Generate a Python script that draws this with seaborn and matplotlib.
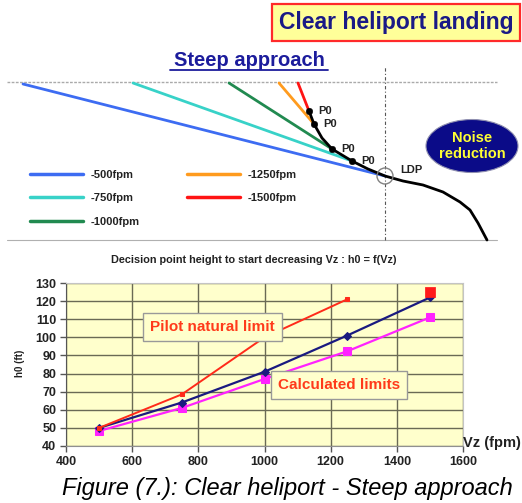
import matplotlib
matplotlib.use("Agg")
import matplotlib.pyplot as plt
import seaborn as sns
import pandas as pd
from matplotlib.patches import Ellipse, Circle
from matplotlib.lines import Line2D

sns.set_style("white")
plt.rcParams['font.family'] = ['Liberation Sans', 'DejaVu Sans']

# ---------------- bottom chart data ----------------
pilot_vz = [500, 750, 1000, 1250]
pilot_h0 = [50, 68.5, 100, 121]
pilot_extra_vz = [1500]
pilot_extra_h0 = [125]
mid_vz = [500, 750, 1000, 1250, 1500]
mid_h0 = [50, 64, 81, 101, 122]
calc_vz = [500, 750, 1000, 1250, 1500]
calc_h0 = [48.3, 61, 77, 92.3, 111]
x_ticks = [400, 600, 800, 1000, 1200, 1400, 1600]
y_ticks = [40, 50, 60, 70, 80, 90, 100, 110, 120, 130]

# ---------------- top schematic data (schematic units, LDP at origin) ----------------
rates = ['-500fpm', '-750fpm', '-1000fpm', '-1250fpm', '-1500fpm']
rate_colors = ['#3d6cf2', '#38d2c8', '#218a50', '#ff9b1e', '#ff1414']
start_x = [-362, -252, -156, -106, -87]
start_y = [92, 93, 93, 93, 93]
end_x = [0, -33, -53, -71, -76]
end_y = [0, 15, 27, 52, 65]
p0_x = [-76, -71, -53, -33]
p0_y = [65, 52, 27, 15]
traj_x = [-76, -71, -63, -53, -33, -17, 0, 18, 38, 58, 75, 85, 93, 102]
traj_y = [65, 52, 38, 27, 15, 7, 0, -5, -9, -16, -26, -34, -47, -64]

W, H = 522, 503
fig = plt.figure(figsize=(W / 100, H / 100), dpi=100)

# ---------------- top schematic ----------------
axt = fig.add_axes([0, 1 - 250 / H, 1, 250 / H])
axt.set_xlim(-385, 137)
axt.set_ylim(-74, 176)
axt.axis('off')

axt.axhline(94, xmin=7 / W, xmax=497 / W, color='#aaaaaa', lw=1, ls=(0, (2, 1)))
axt.axhline(-64, xmin=7 / W, xmax=497 / W, color='#b0b0b0', lw=0.8)
axt.axvline(0, ymin=10 / 250, ymax=183 / 250, color='#555555', lw=0.8, ls=(0, (3, 2, 1, 2)))

for i, r in enumerate(rates):
    seg = pd.DataFrame({'x': [start_x[i], end_x[i]], 'y': [start_y[i], end_y[i]]})
    sns.lineplot(data=seg, x='x', y='y', ax=axt, color=rate_colors[i], lw=2,
                 label=r, sort=False)

traj = pd.DataFrame({'x': traj_x, 'y': traj_y})
sns.lineplot(data=traj, x='x', y='y', ax=axt, color='black', lw=2, sort=False, legend=False)
sns.scatterplot(x=p0_x, y=p0_y, ax=axt, color='black', s=22, edgecolor='black', zorder=5)
for px, py in zip(p0_x, p0_y):
    axt.annotate('P0', (px, py), xytext=(7, 0), textcoords='offset points',
                 fontsize=8, fontweight='bold', color='#222222', va='center')

axt.add_patch(Circle((0, 0), 8, fill=False, ec='#808080', lw=1, zorder=6))
axt.annotate('LDP', (0, 0), xytext=(11, 4), textcoords='offset points',
             fontsize=8, fontweight='bold', color='#222222', va='center')

axt.add_patch(Ellipse((87, 30), 92, 53, fc='#0b0b88', ec='#9090b0', lw=0.8))
axt.text(87, 30, 'Noise\nreduction', ha='center', va='center', color='#ffff33',
         fontsize=10.5, fontweight='bold', linespacing=1.15)

leg = axt.legend(loc='upper left', bbox_to_anchor=(30 / W, (250 - 170) / 250), ncol=2,
                 frameon=False, fontsize=8, handlelength=4.8, handletextpad=0.7,
                 columnspacing=4.2, labelspacing=1.2, borderpad=0, borderaxespad=0)
for t in leg.get_texts():
    t.set_fontweight('bold')
    t.set_color('#222222')
for h in leg.legend_handles:
    h.set_linewidth(2.5)

fig.text(396 / W, 1 - 22.5 / H, 'Clear heliport landing', ha='center', va='center',
         fontsize=16.5, fontweight='bold', color='#1a1a86',
         bbox=dict(boxstyle='square,pad=0.3', fc='#ffff99', ec='#ff2a2a', lw=1.6))
fig.text(249 / W, 1 - 66 / H, 'Steep approach', ha='center', va='baseline',
         fontsize=14.5, fontweight='bold', color='#1c1c9c')
fig.add_artist(Line2D([170 / W, 328 / W], [1 - 70 / H, 1 - 70 / H], color='#1c1c9c', lw=1.3))

# ---------------- bottom chart ----------------
fig.text(254 / W, 1 - 260 / H, 'Decision point height to start decreasing Vz : h0 = f(Vz)',
         ha='center', va='center', fontsize=7.8, fontweight='bold', color='#222222')

ax = fig.add_axes([66 / W, 1 - 446 / H, (463 - 66) / W, (446 - 283) / H])
ax.set_facecolor('#ffffcc')
ax.set_xlim(400, 1600)
ax.set_ylim(40, 130)
ax.set_xticks(x_ticks)
ax.set_yticks(y_ticks)
ax.grid(True, color='#6a6a55', lw=1)
ax.set_axisbelow(True)

df_p = pd.DataFrame({'vz': pilot_vz, 'h0': pilot_h0})
df_m = pd.DataFrame({'vz': mid_vz, 'h0': mid_h0})
df_c = pd.DataFrame({'vz': calc_vz, 'h0': calc_h0})
sns.lineplot(data=df_c, x='vz', y='h0', ax=ax, color='#ff22ff', lw=1.6, marker='s',
             markersize=6, markeredgecolor='#ff22ff')
sns.lineplot(data=df_m, x='vz', y='h0', ax=ax, color='#1a1a80', lw=1.6, marker='D',
             markersize=4.5, markeredgecolor='#1a1a80')
sns.lineplot(data=df_p, x='vz', y='h0', ax=ax, color='#ff2a1a', lw=1.4, marker='s',
             markersize=3.5, markeredgecolor='#ff2a1a')
sns.scatterplot(x=pilot_extra_vz, y=pilot_extra_h0, ax=ax, color='#ff1a1a', marker='s',
                s=45, edgecolor='#ff1a1a', zorder=5)

ax.text(843, 105.7, 'Pilot natural limit', ha='center', va='center', fontsize=11,
        fontweight='bold', color='#ff3a1a',
        bbox=dict(boxstyle='square,pad=0.45', fc='#ffffcc', ec='#999999', lw=1), zorder=6)
ax.text(1224, 73.7, 'Calculated limits', ha='center', va='center', fontsize=11,
        fontweight='bold', color='#ff3a1a',
        bbox=dict(boxstyle='square,pad=0.45', fc='#ffffcc', ec='#999999', lw=1), zorder=6)

ax.set_xlabel('')
ax.set_ylabel('')
for s in ['top', 'right']:
    ax.spines[s].set_color('#c4c4c4')
ax.spines['left'].set_color('#555555')
ax.spines['bottom'].set_color('#909090')
ax.tick_params(axis='both', direction='out', length=4, width=1, color='#555555',
               labelsize=9, labelcolor='#222222', left=True, bottom=True, pad=3)
for lab in ax.get_xticklabels() + ax.get_yticklabels():
    lab.set_fontweight('bold')

fig.text(20 / W, 1 - 363 / H, 'h0 (ft)', rotation=90, ha='center', va='center',
         fontsize=7, fontweight='bold', color='#222222')
fig.text(463 / W, 1 - 443 / H, 'Vz (fpm)', ha='left', va='center', fontsize=10.5,
         fontweight='bold', color='#222222')
fig.text(287 / W, 1 - 488 / H, 'Figure (7.): Clear heliport - Steep approach',
         ha='center', va='center', fontsize=17, style='italic', color='black')

fig.savefig('out.png', dpi=100)
